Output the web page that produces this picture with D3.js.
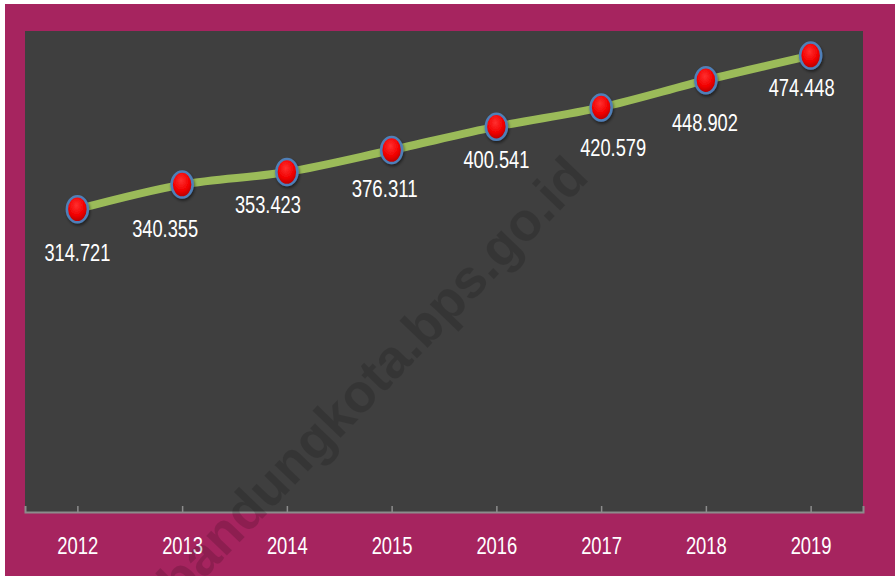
<!DOCTYPE html>
<html>
<head>
<meta charset="utf-8">
<title>Line chart 2012-2019</title>
<style>
  body { margin: 0; background: #fff; }
  svg { display: block; }
</style>
</head>
<body>
<div id="chart"></div>
<script src="https://d3js.org/d3.v7.min.js"></script>
<script>
// data
var years  = ["2012", "2013", "2014", "2015", "2016", "2017", "2018", "2019"];
var values = [314.721, 340.355, 353.423, 376.311, 400.541, 420.579, 448.902, 474.448];
var labels = ["314.721", "340.355", "353.423", "376.311", "400.541", "420.579", "448.902", "474.448"];

// hand placed label offsets (like the original), [dx, dy] from the marker
var labelNudge = [[0, 44], [-17, 44], [-19, 33], [-7, 39], [0, 33], [12, 41], [-1, 43], [-9, 32]];

var W = 895, H = 576;
var plot = {left: 25, top: 31, right: 863, bottom: 512};
var font = "'Liberation Sans', Arial, sans-serif";

var svg = d3.select("#chart").append("svg")
    .attr("width", W)
    .attr("height", H);

var defs = svg.append("defs");
var grad = defs.append("radialGradient")
    .attr("id", "ball")
    .attr("cx", "45%").attr("cy", "35%").attr("r", "65%");
grad.append("stop").attr("offset", "0%").attr("stop-color", "#ff3030");
grad.append("stop").attr("offset", "60%").attr("stop-color", "#f20000");
grad.append("stop").attr("offset", "100%").attr("stop-color", "#b00000");

var shadow = defs.append("filter").attr("id", "shadow")
    .attr("x", "-50%").attr("y", "-50%").attr("width", "200%").attr("height", "200%");
shadow.append("feDropShadow")
    .attr("dx", 1).attr("dy", 2).attr("stdDeviation", 1.5)
    .attr("flood-color", "#000").attr("flood-opacity", 0.5);

// outer frame
svg.append("rect")
    .attr("x", 5).attr("y", 4)
    .attr("width", W - 5).attr("height", H - 4)
    .attr("fill", "#a6245f");

// plot area
svg.append("rect")
    .attr("x", plot.left).attr("y", plot.top)
    .attr("width", plot.right - plot.left)
    .attr("height", plot.bottom - plot.top)
    .attr("fill", "#3f3f3f");

var x = d3.scalePoint()
    .domain(years)
    .range([plot.left, plot.right])
    .padding(0.5);

var y = d3.scaleLinear()
    .domain([0, 500])
    .range([plot.bottom, plot.top]);

// x axis
var xAxis = svg.append("g")
    .attr("transform", "translate(0," + plot.bottom + ")")
    .call(d3.axisBottom(x).tickSizeInner(-6).tickSizeOuter(-6).tickPadding(0));
xAxis.select(".domain").attr("stroke", "#8c8c8c").attr("stroke-width", 2);
xAxis.selectAll(".tick line").attr("stroke", "#8c8c8c").attr("stroke-width", 1.5);
xAxis.selectAll(".tick text")
    .attr("y", 34)
    .attr("dy", "0.35em")
    .attr("fill", "#fff")
    .attr("textLength", 41)
    .attr("lengthAdjust", "spacingAndGlyphs")
    .style("font-family", font)
    .style("font-size", "23px");

// watermark
svg.append("text")
    .attr("transform", "translate(372,378) rotate(-46)")
    .attr("text-anchor", "middle")
    .attr("dy", "0.35em")
    .attr("fill", "#000")
    .attr("fill-opacity", 0.15)
    .attr("textLength", 590)
    .attr("lengthAdjust", "spacingAndGlyphs")
    .style("font-family", font)
    .style("font-weight", "bold")
    .style("font-size", "54px")
    .text("bandungkota.bps.go.id");

var pts = years.map(function(d, i) { return {year: d, value: values[i], label: labels[i], i: i}; });

var line = d3.line()
    .x(function(d) { return x(d.year); })
    .y(function(d) { return y(d.value); })
    .curve(d3.curveMonotoneX);

svg.append("path")
    .datum(pts)
    .attr("d", line)
    .attr("fill", "none")
    .attr("stroke", "#9bbb59")
    .attr("stroke-width", 8)
    .attr("stroke-linecap", "round");

// markers
svg.selectAll(".marker")
    .data(pts)
    .enter().append("ellipse")
    .attr("class", "marker")
    .attr("cx", function(d) { return x(d.year); })
    .attr("cy", function(d) { return y(d.value); })
    .attr("rx", 10.5)
    .attr("ry", 13)
    .attr("fill", "url(#ball)")
    .attr("stroke", "#4f7fb8")
    .attr("stroke-width", 2.5)
    .attr("filter", "url(#shadow)");

// value labels
svg.selectAll(".vlabel")
    .data(pts)
    .enter().append("text")
    .attr("class", "vlabel")
    .attr("x", function(d) { return x(d.year) + labelNudge[d.i][0]; })
    .attr("y", function(d) { return y(d.value) + labelNudge[d.i][1]; })
    .attr("dy", "0.35em")
    .attr("text-anchor", "middle")
    .attr("fill", "#fff")
    .attr("textLength", 66)
    .attr("lengthAdjust", "spacingAndGlyphs")
    .style("font-family", font)
    .style("font-size", "23px")
    .text(function(d) { return d.label; });
</script>
</body>
</html>
